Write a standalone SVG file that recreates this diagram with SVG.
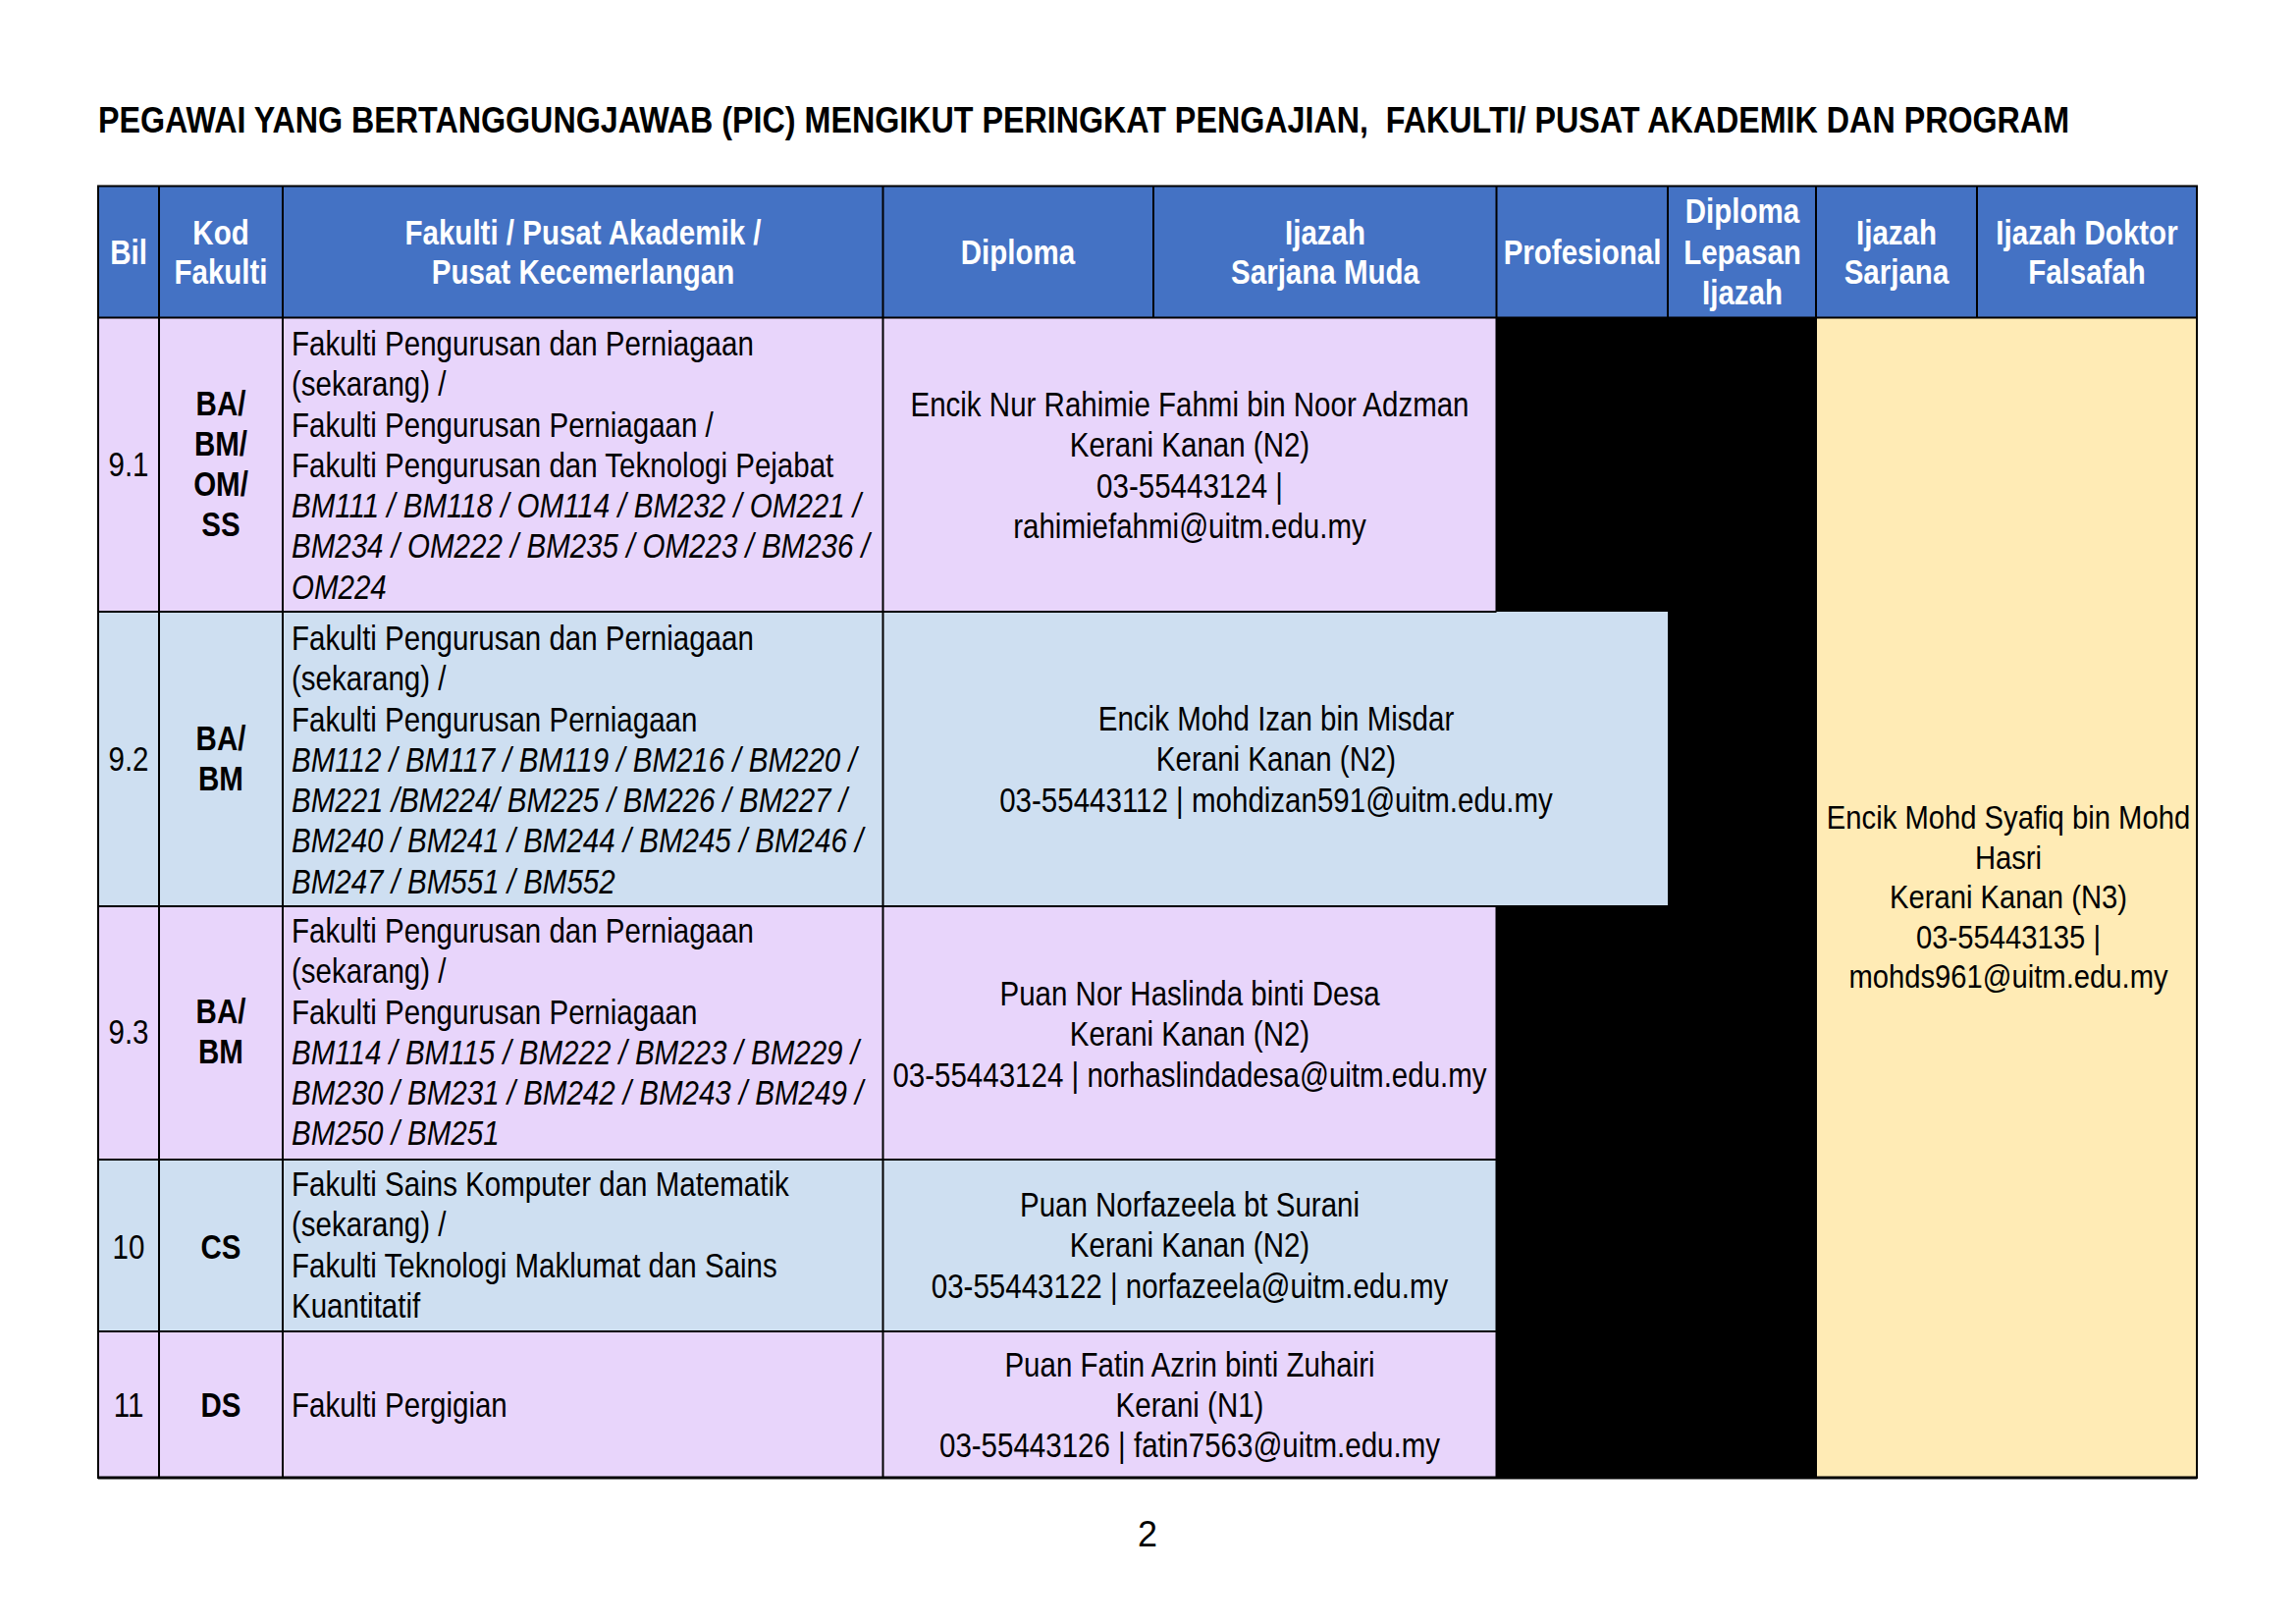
<svg xmlns="http://www.w3.org/2000/svg" width="2339" height="1654" viewBox="0 0 2339 1654">
<style>
text{font-family:"Liberation Sans",Arial,sans-serif;font-size:36px;fill:#000}
.b{font-weight:bold}
.i{font-style:italic}
.w{fill:#fff}
.m{text-anchor:middle}
.hd{fill:#4472C4}
.lv{fill:#E8D5FB}
.lb{fill:#CEDFF1}
.yl{fill:#FFEBB5}
.bk{fill:#000}
.ln{stroke:#000;stroke-width:2;fill:none}
.y{font-size:34px}
</style>
<rect width="2339" height="1654" fill="#fff"/>
<text id="title" class="b" x="100" y="135" font-size="37" style="white-space:pre" textLength="2008" lengthAdjust="spacingAndGlyphs">PEGAWAI YANG BERTANGGUNGJAWAB (PIC) MENGIKUT PERINGKAT PENGAJIAN,  FAKULTI/ PUSAT AKADEMIK DAN PROGRAM</text>

<g id="fills">
<rect class="hd" x="100" y="189.5" width="2138" height="134"/>
<rect class="bk" x="1524.5" y="323.5" width="325.5" height="1181.5"/>
<rect class="yl" x="1850" y="323.5" width="388" height="1181.5"/>
<rect class="lv" x="100" y="323.5" width="1424.5" height="299.5"/>
<rect class="lb" x="100" y="623" width="1599" height="300"/>
<rect class="lv" x="100" y="923" width="1424.5" height="258"/>
<rect class="lb" x="100" y="1181" width="1424.5" height="175"/>
<rect class="lv" x="100" y="1356" width="1424.5" height="149"/>
</g>

<g id="grid" class="ln">
<path d="M162 189.5V1505M288 189.5V1505M899.5 189.5V1505M1175 189.5V323.5M1524.5 189.5V623M1524.5 923V1505M1699 189.5V323.5M1850 189.5V1505M2014 189.5V323.5"/>
<path d="M100 323.5H2238M100 623H1524.5M100 923H1699M100 1181H1524.5M100 1356H1524.5"/>
<rect x="100" y="189.5" width="2138" height="1315.5"/>
<path d="M100 1505H2238" stroke-width="3"/>
</g>

<g id="header" class="b">
<text class="w m" transform="translate(131,269) scale(0.82,1)">Bil</text>
<text class="w m" transform="translate(225,249) scale(0.82,1)"><tspan x="0">Kod</tspan><tspan x="0" dy="40">Fakulti</tspan></text>
<text class="w m" transform="translate(594,249) scale(0.82,1)"><tspan x="0">Fakulti / Pusat Akademik /</tspan><tspan x="0" dy="40">Pusat Kecemerlangan</tspan></text>
<text class="w m" transform="translate(1037,269) scale(0.82,1)">Diploma</text>
<text class="w m" transform="translate(1350,249) scale(0.82,1)"><tspan x="0">Ijazah</tspan><tspan x="0" dy="40">Sarjana Muda</tspan></text>
<text class="w m" transform="translate(1612,269) scale(0.82,1)">Profesional</text>
<text class="w m" transform="translate(1775,227) scale(0.82,1)"><tspan x="0">Diploma</tspan><tspan x="0" dy="42">Lepasan</tspan><tspan x="0" dy="41">Ijazah</tspan></text>
<text class="w m" transform="translate(1932,249) scale(0.82,1)"><tspan x="0">Ijazah</tspan><tspan x="0" dy="40">Sarjana</tspan></text>
<text class="w m" transform="translate(2126,249) scale(0.82,1)"><tspan x="0">Ijazah Doktor</tspan><tspan x="0" dy="40">Falsafah</tspan></text>
</g>

<g id="row-9-1">
<text class="m" transform="translate(131,485) scale(0.82,1)">9.1</text>
<text class="m b" transform="translate(225,423) scale(0.82,1)"><tspan x="0">BA/</tspan><tspan x="0" dy="41">BM/</tspan><tspan x="0" dy="41">OM/</tspan><tspan x="0" dy="41">SS</tspan></text>
<text transform="translate(297,362) scale(0.82,1)"><tspan x="0">Fakulti Pengurusan dan Perniagaan</tspan><tspan x="0" dy="41.3">(sekarang) /</tspan><tspan x="0" dy="41.3">Fakulti Pengurusan Perniagaan /</tspan><tspan x="0" dy="41.3">Fakulti Pengurusan dan Teknologi Pejabat</tspan><tspan class="i" x="0" dy="41.3">BM111 / BM118 / OM114 / BM232 / OM221 /</tspan><tspan class="i" x="0" dy="41.3">BM234 / OM222 / BM235 / OM223 / BM236 /</tspan><tspan class="i" x="0" dy="41.3">OM224</tspan></text>
<text class="m" transform="translate(1212,424) scale(0.82,1)"><tspan x="0">Encik Nur Rahimie Fahmi bin Noor Adzman</tspan><tspan x="0" dy="41.3">Kerani Kanan (N2)</tspan><tspan x="0" dy="41.3">03-55443124 |</tspan><tspan x="0" dy="41.3">rahimiefahmi@uitm.edu.my</tspan></text>
</g>

<g id="row-9-2">
<text class="m" transform="translate(131,785) scale(0.82,1)">9.2</text>
<text class="m b" transform="translate(225,764) scale(0.82,1)"><tspan x="0">BA/</tspan><tspan x="0" dy="41">BM</tspan></text>
<text transform="translate(297,662) scale(0.82,1)"><tspan x="0">Fakulti Pengurusan dan Perniagaan</tspan><tspan x="0" dy="41.3">(sekarang) /</tspan><tspan x="0" dy="41.3">Fakulti Pengurusan Perniagaan</tspan><tspan class="i" x="0" dy="41.3">BM112 / BM117 / BM119 / BM216 / BM220 /</tspan><tspan class="i" x="0" dy="41.3">BM221 /BM224/ BM225 / BM226 / BM227 /</tspan><tspan class="i" x="0" dy="41.3">BM240 / BM241 / BM244 / BM245 / BM246 /</tspan><tspan class="i" x="0" dy="41.3">BM247 / BM551 / BM552</tspan></text>
<text class="m" transform="translate(1300,744) scale(0.82,1)"><tspan x="0">Encik Mohd Izan bin Misdar</tspan><tspan x="0" dy="41.3">Kerani Kanan (N2)</tspan><tspan x="0" dy="41.3">03-55443112 | mohdizan591@uitm.edu.my</tspan></text>
</g>

<g id="row-9-3">
<text class="m" transform="translate(131,1063) scale(0.82,1)">9.3</text>
<text class="m b" transform="translate(225,1042) scale(0.82,1)"><tspan x="0">BA/</tspan><tspan x="0" dy="41">BM</tspan></text>
<text transform="translate(297,960) scale(0.82,1)"><tspan x="0">Fakulti Pengurusan dan Perniagaan</tspan><tspan x="0" dy="41.3">(sekarang) /</tspan><tspan x="0" dy="41.3">Fakulti Pengurusan Perniagaan</tspan><tspan class="i" x="0" dy="41.3">BM114 / BM115 / BM222 / BM223 / BM229 /</tspan><tspan class="i" x="0" dy="41.3">BM230 / BM231 / BM242 / BM243 / BM249 /</tspan><tspan class="i" x="0" dy="41.3">BM250 / BM251</tspan></text>
<text class="m" transform="translate(1212,1024) scale(0.82,1)"><tspan x="0">Puan Nor Haslinda binti Desa</tspan><tspan x="0" dy="41.3">Kerani Kanan (N2)</tspan><tspan x="0" dy="41.3">03-55443124 | norhaslindadesa@uitm.edu.my</tspan></text>
</g>

<g id="row-10">
<text class="m" transform="translate(131,1282) scale(0.82,1)">10</text>
<text class="m b" transform="translate(225,1282) scale(0.82,1)">CS</text>
<text transform="translate(297,1218) scale(0.82,1)"><tspan x="0">Fakulti Sains Komputer dan Matematik</tspan><tspan x="0" dy="41.3">(sekarang) /</tspan><tspan x="0" dy="41.3">Fakulti Teknologi Maklumat dan Sains</tspan><tspan x="0" dy="41.3">Kuantitatif</tspan></text>
<text class="m" transform="translate(1212,1239) scale(0.82,1)"><tspan x="0">Puan Norfazeela bt Surani</tspan><tspan x="0" dy="41.3">Kerani Kanan (N2)</tspan><tspan x="0" dy="41.3">03-55443122 | norfazeela@uitm.edu.my</tspan></text>
</g>

<g id="row-11">
<text class="m" transform="translate(131,1443) scale(0.82,1)">11</text>
<text class="m b" transform="translate(225,1443) scale(0.82,1)">DS</text>
<text transform="translate(297,1443) scale(0.82,1)">Fakulti Pergigian</text>
<text class="m" transform="translate(1212,1402) scale(0.82,1)"><tspan x="0">Puan Fatin Azrin binti Zuhairi</tspan><tspan x="0" dy="41">Kerani (N1)</tspan><tspan x="0" dy="41">03-55443126 | fatin7563@uitm.edu.my</tspan></text>
</g>

<g id="pasca-siswazah">
<text class="m y" transform="translate(2046,844) scale(0.86,1)"><tspan x="0">Encik Mohd Syafiq bin Mohd</tspan><tspan x="0" dy="40.6">Hasri</tspan><tspan x="0" dy="40.6">Kerani Kanan (N3)</tspan><tspan x="0" dy="40.6">03-55443135 |</tspan><tspan x="0" dy="40.6">mohds961@uitm.edu.my</tspan></text>
</g>

<text id="page" class="m" x="1169" y="1575" font-size="26">2</text>
</svg>
